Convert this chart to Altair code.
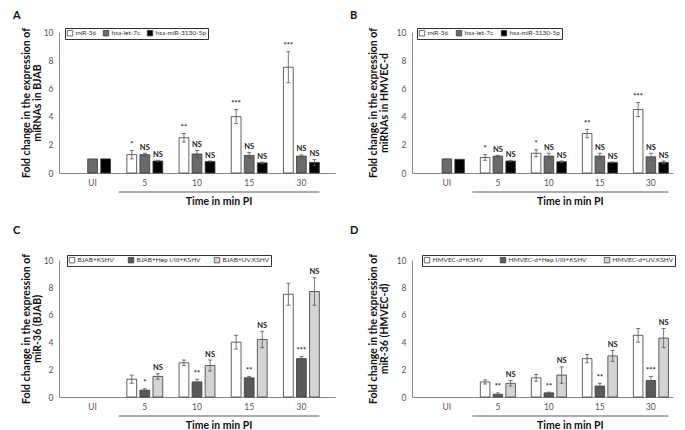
import altair as alt
import pandas as pd

CATS = ["UI", "5", "10", "15", "30"]
X_TITLE = "Time in min PI"

# ---------- Panel A (BJAB, miRNAs) ----------
A_SERIES = ["miR-36", "hsa-let-7c", "hsa-miR-3130-5p"]
A_MIR36 = [None, 1.3, 2.5, 4.0, 7.5]
A_MIR36_ERR = [None, 0.3, 0.3, 0.5, 1.1]
A_MIR36_SIG = ["", "*", "**", "***", "***"]
A_LET7C = [1.0, 1.3, 1.35, 1.25, 1.2]
A_LET7C_ERR = [None, 0.1, 0.25, 0.2, 0.08]
A_LET7C_SIG = ["", "NS", "NS", "NS", "NS"]
A_M3130 = [1.0, 0.85, 0.82, 0.72, 0.75]
A_M3130_ERR = [None, 0.05, 0.03, 0.05, 0.2]
A_M3130_SIG = ["", "NS", "NS", "NS", "NS"]

# ---------- Panel B (HMVEC-d, miRNAs) ----------
B_SERIES = ["miR-36", "hsa-let-7c", "hsa-miR-3130-5p"]
B_MIR36 = [None, 1.1, 1.4, 2.8, 4.5]
B_MIR36_ERR = [None, 0.2, 0.25, 0.3, 0.5]
B_MIR36_SIG = ["", "*", "*", "**", "***"]
B_LET7C = [1.0, 1.2, 1.2, 1.2, 1.15]
B_LET7C_ERR = [None, 0.05, 0.2, 0.2, 0.25]
B_LET7C_SIG = ["", "NS", "NS", "NS", "NS"]
B_M3130 = [0.97, 0.85, 0.8, 0.75, 0.75]
B_M3130_ERR = [None, 0.05, 0.05, 0.03, 0.1]
B_M3130_SIG = ["", "NS", "NS", "NS", "NS"]

# ---------- Panel C (miR-36, BJAB) ----------
C_SERIES = ["BJAB+KSHV", "BJAB+Hep I/III+KSHV", "BJAB+UV.KSHV"]
C_KSHV = [None, 1.3, 2.5, 4.0, 7.5]
C_KSHV_ERR = [None, 0.3, 0.2, 0.5, 0.8]
C_KSHV_SIG = ["", "", "", "", ""]
C_HEP = [None, 0.5, 1.1, 1.4, 2.8]
C_HEP_ERR = [None, 0.1, 0.2, 0.1, 0.15]
C_HEP_SIG = ["", "*", "**", "**", "***"]
C_UV = [None, 1.5, 2.3, 4.2, 7.7]
C_UV_ERR = [None, 0.2, 0.4, 0.6, 1.0]
C_UV_SIG = ["", "NS", "NS", "NS", "NS"]

# ---------- Panel D (miR-36, HMVEC-d) ----------
D_SERIES = ["HMVEC-d+KSHV", "HMVEC-d+Hep I/III+KSHV", "HMVEC-d+UV.KSHV"]
D_KSHV = [None, 1.1, 1.4, 2.8, 4.5]
D_KSHV_ERR = [None, 0.15, 0.25, 0.3, 0.5]
D_KSHV_SIG = ["", "", "", "", ""]
D_HEP = [None, 0.2, 0.3, 0.8, 1.2]
D_HEP_ERR = [None, 0.1, 0.05, 0.2, 0.3]
D_HEP_SIG = ["", "**", "**", "**", "***"]
D_UV = [None, 1.0, 1.6, 3.0, 4.3]
D_UV_ERR = [None, 0.2, 0.6, 0.4, 0.7]
D_UV_SIG = ["", "NS", "NS", "NS", "NS"]

COLORS_MIR = ["#ffffff", "#6b6b6b", "#000000"]
COLORS_TRT = ["#ffffff", "#5a5a5a", "#d4d4d4"]

FONT = "Lato"
P_IN = 0.25
CAP = "M-1,0L1,0"


def slot_domain(trailing):
    # one empty slot before the first group, one between groups (and optionally after the last)
    dom = ["g0"]
    for i, c in enumerate(CATS):
        dom += [f"{c}|0", f"{c}|1", f"{c}|2"]
        if i < len(CATS) - 1 or trailing:
            dom.append(f"g{i + 1}")
    return dom


def panel(letter, letter_dx, letter_offset, series, vals, errs, sigs, colors,
          ytitle, width, height, p_out, trailing, lx, ly, colpad, tpad):
    rows = []
    for k, (s, v, e, g) in enumerate(zip(series, vals, errs, sigs)):
        for c, vv, ee, gg in zip(CATS, v, e, g):
            if vv is None:
                continue
            er = ee if ee is not None else 0.0
            rows.append(dict(cat=c, slot=f"{c}|{k}", series=s, val=vv, lo=vv - er,
                             hi=vv + er, sig=gg, haserr=ee is not None))
    df = pd.DataFrame(rows)
    err_df = df[df["haserr"]].reset_index(drop=True)

    dom = slot_domain(trailing)
    n = len(dom)
    step = width / (n - P_IN + 2 * p_out)
    start = (width - step * (n - P_IN)) / 2
    half = step * (1 - P_IN) / 2
    b_left = start + dom.index("g1") * step + half
    b_right = start + dom.index(f"{CATS[-1]}|2") * step + 2 * half
    mid_slot = "g3"
    title_dx = (b_left + b_right) / 2 - (start + dom.index(mid_slot) * step + half)

    xscale = alt.Scale(domain=dom, paddingInner=P_IN, paddingOuter=p_out)
    yscale = alt.Scale(domain=[0, 10], nice=False)

    xaxis = alt.Axis(title=None, labelAngle=0, ticks=False, bandPosition=0.5,
                     labelExpr="indexof(datum.value, '|1') > 0 ? split(datum.value, '|')[0] : ''",
                     domainColor="#8a8a8a", labelColor="#555555",
                     labelFontSize=8.5, labelFont=FONT, labelPadding=5)
    yaxis = alt.Axis(title=ytitle, values=[0, 2, 4, 6, 8, 10], grid=False,
                     ticks=False, domainColor="#8a8a8a", labelColor="#555555",
                     labelFontSize=8.5, labelFont=FONT, labelPadding=6,
                     titleFont=FONT, titleFontSize=10.5, titleFontWeight="bold",
                     titleColor="#111111", titlePadding=tpad, titleLineHeight=11)
    xe = alt.X("slot:N", scale=xscale, sort=dom, axis=xaxis)

    bars = alt.Chart(df).mark_bar(stroke="#3a3a3a", strokeWidth=0.8).encode(
        x=xe,
        y=alt.Y("val:Q", scale=yscale, axis=yaxis),
        fill=alt.Fill("series:N", scale=alt.Scale(domain=series, range=colors),
                      legend=alt.Legend(title=None, orient="none", legendX=lx, legendY=ly,
                                        direction="horizontal", strokeColor="#333333",
                                        fillColor="#ffffff", padding=1.5,
                                        symbolType="square", symbolSize=30,
                                        symbolStrokeColor="#333333", symbolStrokeWidth=0.7,
                                        labelFont=FONT, labelFontSize=6.5,
                                        labelColor="#333333", columnPadding=colpad,
                                        labelOffset=2)),
    )
    ebase = alt.Chart(err_df)
    erule = ebase.mark_rule(color="#555555", strokeWidth=0.8).encode(
        x=xe, y=alt.Y("lo:Q", scale=yscale, axis=yaxis), y2="hi:Q")
    cap_hi = ebase.mark_point(shape=CAP, size=16, filled=False, color="#555555",
                              strokeWidth=0.8, opacity=1).encode(
        x=xe, y=alt.Y("hi:Q", scale=yscale, axis=yaxis))
    cap_lo = ebase.mark_point(shape=CAP, size=16, filled=False, color="#555555",
                              strokeWidth=0.8, opacity=1).encode(
        x=xe, y=alt.Y("lo:Q", scale=yscale, axis=yaxis))
    txt = ebase.mark_text(baseline="bottom", dy=-1.5, fontSize=7.5, fontWeight="bold",
                          font=FONT, color="#222222").encode(
        x=xe, y=alt.Y("hi:Q", scale=yscale, axis=yaxis), text="sig:N")

    br_df = pd.DataFrame({"s": ["g1"], "e": [f"{CATS[-1]}|2"], "m": [mid_slot], "t": [X_TITLE]})
    bracket = alt.Chart(br_df).mark_rule(color="#333333", strokeWidth=0.8).encode(
        x=alt.X("s:N", scale=xscale, sort=dom, bandPosition=0.5, axis=xaxis),
        x2=alt.X2("e", bandPosition=1),
        y=alt.value(height + 19))
    xtitle = alt.Chart(br_df).mark_text(font=FONT, fontSize=10.5, fontWeight="bold",
                                        color="#111111", baseline="middle",
                                        dx=title_dx).encode(
        x=alt.X("m:N", scale=xscale, sort=dom, axis=xaxis),
        y=alt.value(height + 29), text="t:N")

    return alt.layer(bars, erule, cap_hi, cap_lo, txt, bracket, xtitle).properties(
        width=width, height=height,
        title=alt.TitleParams(letter, anchor="start", frame="group", dx=letter_dx,
                              offset=letter_offset, fontSize=11, fontWeight="bold",
                              font=FONT, color="#111111"))


A = panel("A", -46, 6, A_SERIES, [A_MIR36, A_LET7C, A_M3130],
          [A_MIR36_ERR, A_LET7C_ERR, A_M3130_ERR], [A_MIR36_SIG, A_LET7C_SIG, A_M3130_SIG],
          COLORS_MIR, ["Fold change in the expression of", "miRNAs in BJAB"],
          276, 141, 0.2, True, 6, -4, 5, 1)
B = panel("B", -62, 6, B_SERIES, [B_MIR36, B_LET7C, B_M3130],
          [B_MIR36_ERR, B_LET7C_ERR, B_M3130_ERR], [B_MIR36_SIG, B_LET7C_SIG, B_M3130_SIG],
          COLORS_MIR, ["Fold change in the expression of", "miRNAs in HMVEC-d"],
          261, 141, 0.36, False, 5, -4, 6, 7)
C = panel("C", -46, 17, C_SERIES, [C_KSHV, C_HEP, C_UV],
          [C_KSHV_ERR, C_HEP_ERR, C_UV_ERR], [C_KSHV_SIG, C_HEP_SIG, C_UV_SIG],
          COLORS_TRT, ["Fold change in the expression of", "miR-36 (BJAB)"],
          276, 137, 0.2, True, 8, -5, 12, 1)
D = panel("D", -62, 17, D_SERIES, [D_KSHV, D_HEP, D_UV],
          [D_KSHV_ERR, D_HEP_ERR, D_UV_ERR], [D_KSHV_SIG, D_HEP_SIG, D_UV_SIG],
          COLORS_TRT, ["Fold change in the expression of", "miR-36 (HMVEC-d)"],
          261, 137, 0.36, False, 10, -5, 15, 7)

chart = alt.vconcat(
    alt.hconcat(A, B, spacing=15).resolve_scale(fill="independent", x="independent", y="independent"),
    alt.hconcat(C, D, spacing=15).resolve_scale(fill="independent", x="independent", y="independent"),
    spacing=17,
).resolve_scale(fill="independent", x="independent", y="independent").properties(
    padding={"left": 5, "top": 2, "right": 0, "bottom": 0},
    background="#ffffff",
).configure_view(stroke=None)

chart.save("out.html", embed_options={"renderer": "svg", "actions": False})
